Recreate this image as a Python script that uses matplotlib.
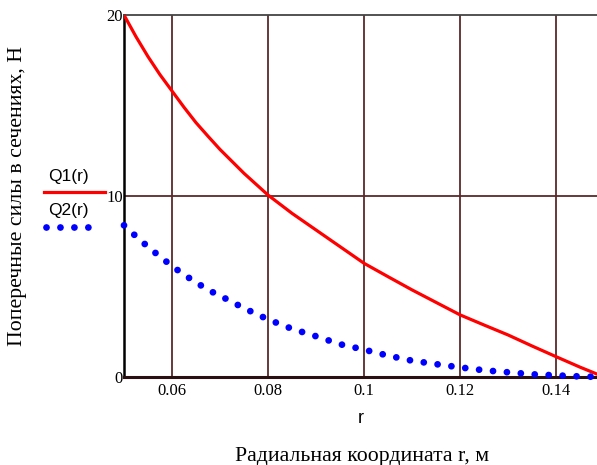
import matplotlib
matplotlib.use("Agg")
import matplotlib.pyplot as plt
from matplotlib.lines import Line2D

# радиальная координата, м
r = [0.050, 0.0525, 0.055, 0.0575, 0.060, 0.0625, 0.065, 0.0675, 0.070, 0.075,
     0.080, 0.085, 0.090, 0.095, 0.100, 0.105, 0.110, 0.115, 0.120, 0.125,
     0.130, 0.135, 0.140, 0.145, 0.150]
# поперечные силы, Н
Q1 = [20.0, 18.8, 17.7, 16.7, 15.8, 14.9, 14.05, 13.3, 12.57, 11.25,
      10.05, 9.04, 8.12, 7.2, 6.28, 5.54, 4.81, 4.12, 3.43, 2.87,
      2.32, 1.71, 1.12, 0.54, 0.0]
Q2 = [8.38, 7.77, 7.19, 6.65, 6.13, 5.65, 5.23, 4.81, 4.49, 3.80,
      3.18, 2.66, 2.25, 1.81, 1.51, 1.18, 0.90, 0.71, 0.53, 0.37,
      0.26, 0.15, 0.09, 0.03, 0.0]

xticks = [0.06, 0.08, 0.10, 0.12, 0.14]
xticklabels = ["0.06", "0.08", "0.1", "0.12", "0.14"]
yticks = [0, 10, 20]

serif = "Liberation Serif"
sans = "Liberation Sans"
grid_c = "#5a2a2a"
dots = (0, (0.001, 2.05))

fig = plt.figure(figsize=(5.97, 4.65), dpi=100)
ax = fig.add_axes([124 / 597, 88 / 465, 473 / 597, 362 / 465])

ax.plot(r, Q1, color="#ff0000", lw=2.3, solid_capstyle="butt", zorder=3)
ax.plot(r, Q2, color="#0000ff", lw=4.9, linestyle=dots,
        dash_capstyle="round", clip_on=False, zorder=4)

ax.set_xlim(0.05, 0.1485)
ax.set_ylim(0, 20)
ax.set_xticks(xticks)
ax.set_xticklabels(xticklabels, fontfamily=serif, fontsize=12)
ax.set_yticks(yticks)
ax.set_yticklabels([str(v) for v in yticks], fontfamily=serif, fontsize=12)
ax.tick_params(axis="both", length=0)
ax.tick_params(axis="x", pad=4)
ax.tick_params(axis="y", pad=1)

for x in xticks:
    ax.axvline(x, color=grid_c, lw=1.3, zorder=1)
ax.axhline(10, color=grid_c, lw=1.3, zorder=1)

ax.spines["left"].set_color("black")
ax.spines["left"].set_linewidth(1.8)
ax.spines["bottom"].set_color("#2a1010")
ax.spines["bottom"].set_linewidth(2.2)
ax.spines["top"].set_color("#444444")
ax.spines["top"].set_linewidth(1.3)
ax.spines["right"].set_visible(False)

ax.set_xlabel("r", fontfamily=sans, fontsize=13, labelpad=8)
fig.text(362 / 597, 1 - 456 / 465, "Радиальная координата r, м",
         fontfamily=serif, fontsize=15.7, ha="center", va="center")
fig.text(18 / 597, 1 - 196 / 465, "Поперечные силы в сечениях, Н",
         fontfamily=serif, fontsize=15.7, rotation=90, ha="center", va="center")

# легенда слева
fig.text(68 / 597, 1 - 177 / 465, "Q1(r)", fontfamily=sans, fontsize=12.5,
         ha="center", va="center")
fig.add_artist(Line2D([44 / 597, 105 / 597], [1 - 192 / 465, 1 - 192 / 465],
                      color="#ff0000", lw=2.3))
fig.text(68 / 597, 1 - 211 / 465, "Q2(r)", fontfamily=sans, fontsize=12.5,
         ha="center", va="center")
fig.add_artist(Line2D([45.7 / 597, 90.7 / 597], [1 - 227 / 465, 1 - 227 / 465],
                      color="#0000ff", lw=4.9, linestyle=dots,
                      dash_capstyle="round"))

fig.savefig("out.png", dpi=100)
